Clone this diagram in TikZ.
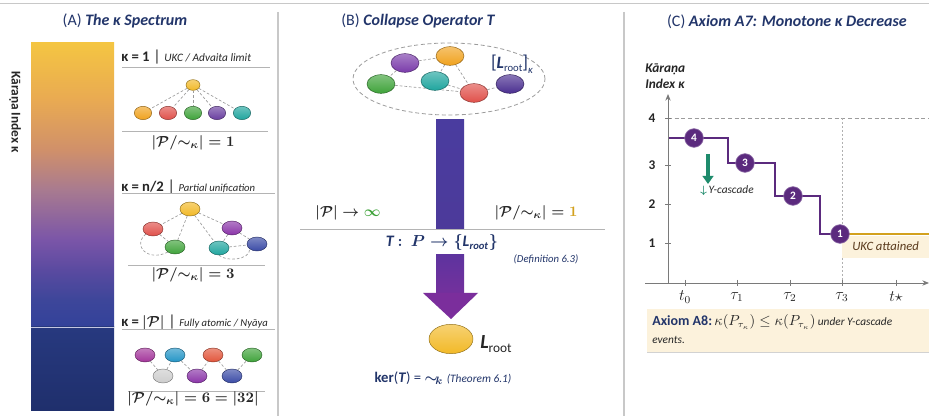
\documentclass[tikz,border=0pt]{standalone}
\usepackage{amsmath}
\usepackage{fontspec}
\setmainfont{Carlito}
\usetikzlibrary{shapes.geometric,arrows.meta}

\definecolor{ink}{HTML}{262626}
\definecolor{navy}{HTML}{22356A}
\definecolor{rulegrey}{HTML}{B4B4B4}
\definecolor{edgegrey}{HTML}{9C9C9C}
\definecolor{panelline}{HTML}{C8C8C8}
% spectrum bar
\definecolor{barA}{HTML}{F4C542}
\definecolor{barB}{HTML}{E9AA52}
\definecolor{barC}{HTML}{D0906A}
\definecolor{barD}{HTML}{A87A90}
\definecolor{barE}{HTML}{7A55A8}
\definecolor{barF}{HTML}{5A4AA0}
\definecolor{barG}{HTML}{3D469A}
\definecolor{barH}{HTML}{33429A}
\definecolor{barI}{HTML}{27397F}
\definecolor{barJ}{HTML}{1F2F6C}
% node colours
\definecolor{cgold}{HTML}{F2B927}
\definecolor{corange}{HTML}{F0A21E}
\definecolor{cred}{HTML}{E0504A}
\definecolor{cgreen}{HTML}{3FA33A}
\definecolor{cpurple}{HTML}{6A3FA0}
\definecolor{cteal}{HTML}{1FA59E}
\definecolor{cmagenta}{HTML}{A3359A}
\definecolor{ccyan}{HTML}{2495C6}
\definecolor{cvermil}{HTML}{E2553A}
\definecolor{clgrey}{HTML}{CDCDCD}
\definecolor{cviolet}{HTML}{8A34A8}
\definecolor{cblue}{HTML}{3A4BA6}
\definecolor{cdeep}{HTML}{4A2E90}
\definecolor{cplum}{HTML}{7A3BAA}
% panel C
\definecolor{stepc}{HTML}{5B2A7E}
\definecolor{goldc}{HTML}{D3A11E}
\definecolor{creamc}{HTML}{FCF2DC}
\definecolor{cascade}{HTML}{1E8B6C}
\definecolor{axisg}{HTML}{7A7A7A}
\definecolor{brownc}{HTML}{5A3A1C}
% collapse arrow
\definecolor{shaftA}{HTML}{4A3C9F}
\definecolor{shaftB}{HTML}{4C3A9A}
\definecolor{shaftC}{HTML}{5E349E}
\definecolor{shaftD}{HTML}{74309D}
\definecolor{headc}{HTML}{7B2E9C}

\pgfdeclareverticalshading{kappabar}{100bp}{%
  color(0bp)=(barH); color(25bp)=(barH); color(29.8bp)=(barG); color(35bp)=(barF);
  color(40.3bp)=(barE); color(49.1bp)=(barD); color(56.2bp)=(barC); color(65bp)=(barB);
  color(75bp)=(barA); color(100bp)=(barA)}

\pgfdeclarelayer{canvas}
\pgfdeclarelayer{bg}
\pgfsetlayers{canvas,bg,main}

\newcommand\fsz[1]{\fontsize{#1}{#1}\selectfont}
\newcommand\Lroot[2]{\textbf{\textit{L}}\raisebox{-0.35ex}{\fsz{#2}#1}}

\tikzset{
  orb/.style={ellipse, draw=#1!60!black, line width=0.35pt,
    top color=#1!65!white, bottom color=#1, inner sep=0pt},
  orbXS/.style={orb=#1, minimum width=10.5pt, minimum height=8pt},
  orbS/.style={orb=#1, minimum width=13pt, minimum height=10pt},
  orbM/.style={orb=#1, minimum width=15pt, minimum height=10.5pt},
  orbL/.style={orb=#1, minimum width=21pt, minimum height=14pt},
  orbXL/.style={orb=#1, minimum width=33pt, minimum height=22pt},
  title/.style={font=\fsz{12}\bfseries\itshape, text=navy, inner sep=0pt},
  hdr/.style={anchor=west, inner sep=0pt, text=ink},
  rule/.style={draw=rulegrey, line width=0.5pt},
  link/.style={draw=edgegrey, dashed, dash pattern=on 2pt off 1.5pt, line width=0.5pt},
  count/.style={inner sep=0pt, text=ink, font=\fsz{11}\boldmath},
  stepdot/.style={circle, fill=stepc, draw=stepc!70!white, line width=0.5pt,
    minimum size=14pt, inner sep=0pt, text=white, font=\fsz{8.5}\bfseries},
  stepline/.style={draw=stepc, line width=2.2pt},
  axisline/.style={draw=axisg, line width=0.7pt},
  ticklab/.style={inner sep=0pt, text=ink, font=\fsz{10}\bfseries},
}

\begin{document}
\begin{tikzpicture}[x=0.75pt,y=-0.75pt]
\useasboundingbox (0,0) rectangle (929,416);
\begin{pgfonlayer}{canvas}
  \fill[white] (0,0) rectangle (929,416);
\end{pgfonlayer}

% frame lines
\draw[panelline, line width=0.6pt] (0,3) -- (929,3);
\draw[panelline, line width=0.8pt] (278,12) -- (278,416);
\draw[panelline, line width=0.8pt] (624,12) -- (624,416);

% ================= panel A =================
\node[title] (tA) at (125,21) {\textup{\mdseries(A)} The κ Spectrum};

\shade[shading=kappabar] (31,43) rectangle (114,327);
\shade[top color=barI, bottom color=barJ] (31,327) rectangle (114,411);
\draw[white!70!barG, line width=0.6pt] (31,327) -- (114,327);
\node[rotate=-90, inner sep=0pt, text=ink, font=\fsz{10}\bfseries] (axA) at (15,112) {Kāraṇa Index κ};

% kappa = 1
\node[hdr] (h1) at (121,57) {{\fsz{11}\bfseries κ = 1}\;{\fsz{12}|}\;{\fsz{8.5}\itshape UKC / Advaita limit}};
\draw[rule] (122,67) -- (270,67);
\node[orbXS=cgold] (r1) at (193,85) {};
\node[orbS=corange] (a1) at (143,113) {};
\node[orbS=cred] (a2) at (168,113) {};
\node[orbS=cgreen] (a3) at (193,113) {};
\node[orbS=cpurple] (a4) at (217,113) {};
\node[orbS=cteal] (a5) at (242,113) {};
\begin{pgfonlayer}{bg}
  \foreach \c in {a1,a2,a3,a4,a5} \draw[link] (r1) -- (\c);
\end{pgfonlayer}
\draw[rule] (122,131) -- (268,131);
\node[count] (q1) at (193,143) {$|\mathcal{P}/{\sim_{\kappa}}| = 1$};

% kappa = n/2
\node[hdr] (h2) at (121,187) {{\fsz{11}\bfseries κ = n/2}\;{\fsz{12}|}\;{\fsz{8}\itshape Partial unification}};
\draw[rule] (122,193) -- (275,193);
\node[orbM=cgold] (r2) at (190,209) {};
\node[orbM=cred] (b1) at (153,229) {};
\node[orbM=cgreen] (b2) at (175,247) {};
\node[orbM=cteal] (b3) at (219,248) {};
\node[orbM=cviolet] (b4) at (232,228) {};
\node[orbM=cblue] (b5) at (257,244) {};
\begin{pgfonlayer}{bg}
  \draw[link] (r2) -- (b1);
  \draw[link] (r2) -- (b2);
  \draw[link] (r2) -- (b3);
  \draw[link] (r2) -- (b4);
  \draw[link] (b1) -- (b2);
  \draw[link] (b4) -- (b3);
  \draw[link] (b4) -- (b5);
  \draw[link] (b3) -- (b5);
  \draw[link] (b1.south west) .. controls (132,246) and (148,262) .. (b2.south west);
  \draw[link] (b3.south) .. controls (226,262) and (250,260) .. (b5.south west);
\end{pgfonlayer}
\draw[rule] (128,265) -- (265,265);
\node[count] (q2) at (193,275) {$|\mathcal{P}/{\sim_{\kappa}}| = 3$};

% kappa = |P|
\node[hdr] (h3) at (121,323) {{\fsz{11}\bfseries\boldmath κ = $|\mathcal{P}|$}\;{\fsz{12}|}\;{\fsz{8}\itshape Fully atomic / Nyāya}};
\draw[rule] (122,329) -- (275,329);
\node[orbM=cmagenta] (c1) at (145,355) {};
\node[orbM=ccyan] (c2) at (175,355) {};
\node[orbM=cvermil] (c3) at (213,355) {};
\node[orbM=cgreen] (c4) at (252,355) {};
\node[orbM=clgrey] (d1) at (163,376) {};
\node[orbM=cviolet] (d2) at (197,376) {};
\node[orbM=cblue] (d3) at (232,376) {};
\begin{pgfonlayer}{bg}
  \draw[link] (c1) -- (d1);
  \draw[link] (d1) -- (c2);
  \draw[link] (c2) -- (d2);
  \draw[link] (d2) -- (c3);
  \draw[link] (c3) -- (d3);
  \draw[link] (d3) -- (c4);
\end{pgfonlayer}
\draw[rule] (128,391) -- (265,391);
\node[count] (q3) at (193,399) {$|\mathcal{P}/{\sim_{\kappa}}| = 6 = |32|$};

% ================= panel B =================
\node[title] (tB) at (418,21) {\textup{\mdseries(B)} Collapse Operator \textit{T}};

\node[ellipse, draw=edgegrey, dashed, dash pattern=on 3pt off 2pt, line width=0.6pt,
      minimum width=144pt, minimum height=54pt, inner sep=0pt] (cls) at (449,79) {};
\node[orbL=cplum] (e1) at (405,63) {};
\node[orbL=corange] (e2) at (450,56) {};
\node[orbL=cgreen] (e3) at (381,84) {};
\node[orbL=cteal] (e4) at (435,81) {};
\node[orbL=cred] (e5) at (474,93) {};
\node[orbL=cdeep] (e6) at (510,84) {};
\begin{pgfonlayer}{bg}
  \draw[link] (e1) -- (e2);
  \draw[link] (e1) -- (e3);
  \draw[link] (e2) -- (e4);
  \draw[link] (e2) -- (e5);
  \draw[link] (e4) -- (e5);
  \draw[link] (e3) -- (e5);
  \draw[link] (e5) -- (e6);
\end{pgfonlayer}
\node[inner sep=0pt, text=navy] (cl) at (512,64) {{\fsz{14}[}{\fsz{13}\Lroot{root}{8}}{\fsz{14}]}\raisebox{-0.8ex}{\fsz{8}\itshape κ}};

% collapse arrow, split by the definition line
\coordinate (shtop) at (436,120);
\shade[top color=shaftA, bottom color=shaftB] (shtop) rectangle (464,229);
\shade[top color=shaftC, bottom color=shaftD] (436,255) rectangle (464,294);
\fill[headc] (423,293) -- (478,293) -- (451,319) -- cycle;

\node[inner sep=0pt, text=ink, font=\fsz{11}\boldmath] (inf) at (348,213) {$|\mathcal{P}|\rightarrow{\color{cgreen}\infty}$};
\node[inner sep=0pt, text=ink, font=\fsz{11}\boldmath] (one) at (536,213) {$|\mathcal{P}/{\sim_{\kappa}}| = {\color{goldc}1}$};
\draw[rule] (300,229) -- (605,229);
\node[fill=white, inner sep=1pt, text=navy, font=\fsz{12}\boldmath] (defT) at (442,243)
  {\textbf{\textit{T}}$\,:\,P \rightarrow \{$\textbf{\textit{L}}$_{\mathit{root}}\}$};
\node[inner sep=0pt, text=navy, font=\fsz{8}\itshape] (def) at (546,259) {(Definition 6.3)};

\node[orbXL=cgold] (lr) at (451,339) {};
\node[anchor=west, inner sep=0pt, text=ink] (lrl) at (480,344) {{\fsz{15}\Lroot{root}{10}}};
\node[inner sep=0pt, text=navy] (ker) at (443,378)
  {{\fsz{11}\bfseries ker}{\fsz{11}\boldmath(\textbf{\textit{T}}) = $\sim_{\!k}$}\;{\fsz{8.5}\itshape (Theorem 6.1)}};

% ================= panel C =================
\node[title] (tC) at (787,22) {\textup{\mdseries(C)} Axiom A7: Monotone κ Decrease};
\node[anchor=west, inner sep=0pt, align=left, text=ink, font=\fontsize{10}{12}\selectfont\bfseries\itshape] (ylab) at (645,76) {Kāraṇa\\Index κ};

\coordinate (yo) at (668,283);
\coordinate (ytop) at (668,94);
\coordinate (xs) at (645,283);
\coordinate (xe) at (929,283);

% reference lines
\draw[edgegrey, dashed, dash pattern=on 3pt off 2pt, line width=0.6pt] (668,118) -- (929,118);
\draw[edgegrey!80!white, dash pattern=on 1.5pt off 1.5pt, line width=0.7pt] (842,118) -- (842,283);

% "UKC attained" band
\fill[creamc] (842,236) rectangle (929,258);
\node[anchor=west, inner sep=0pt, text=brownc, font=\fsz{9.5}\itshape] (ukc) at (852,246) {UKC attained};

% axes
\draw[axisline, -{Stealth[length=5pt,width=4pt]}] (yo) -- (ytop);
\draw[axisline, -{Stealth[length=5pt,width=4pt]}] (xs) -- (xe);

\foreach \y/\v in {118/4,165/3,204/2,243/1} {
  \draw[axisline] (665,\y) -- (671,\y);
  \node[ticklab] at (652,\y) {\v};
}
\foreach \x/\lab in {685/t_0,737/\tau_1,790/\tau_2,842/\tau_3,896/t\star} {
  \draw[axisline] (\x,280) -- (\x,286);
  \node[inner sep=0pt, text=ink, font=\fsz{12}] at (\x,297) {$\lab$};
}

% monotone staircase
\node[stepdot] (k4) at (694,138) {4};
\node[stepdot] (k3) at (745,163) {3};
\node[stepdot] (k2) at (793,196) {2};
\node[stepdot] (k1) at (840,234) {1};
\begin{pgfonlayer}{bg}
  \draw[stepline] (668,138) -- (k4.center) -- (728,138) |- (k3.center)
        -- (775,163) |- (k2.center) -- (820,196) |- (k1.center);
  \draw[draw=goldc, line width=2pt] (k1.center) -- (929,234);
\end{pgfonlayer}

% cascade marker
\coordinate (cz0) at (708,154);
\coordinate (cz1) at (708,184);
\draw[cascade, line width=2.6pt, -{Triangle[length=6pt,width=8pt]}] (cz0) -- (cz1);
\node[anchor=west, inner sep=0pt, text=ink, font=\fsz{8.5}\itshape] (cz) at (700,191) {{\color{cascade}$\boldsymbol{\downarrow}$}\,Υ-cascade};

% axiom A8 note
\fill[creamc] (647,309) rectangle (929,352);
\draw[rulegrey!60!white, line width=0.8pt] (647,352.5) -- (929,352.5);
\node[anchor=west, inner sep=0pt, text=ink] (a8) at (652,322)
  {{\fsz{10.5}\bfseries\color{navy}Axiom A8:}\,{\fsz{10.5}$\kappa(P_{\tau_\kappa}) \le \kappa(P_{\tau_\kappa})$}\,{\fsz{8.5}\itshape under Υ-cascade}};
\node[anchor=west, inner sep=0pt, text=ink, font=\fsz{8.5}\itshape] (a8b) at (652,340) {events.};

\end{tikzpicture}
\end{document}
